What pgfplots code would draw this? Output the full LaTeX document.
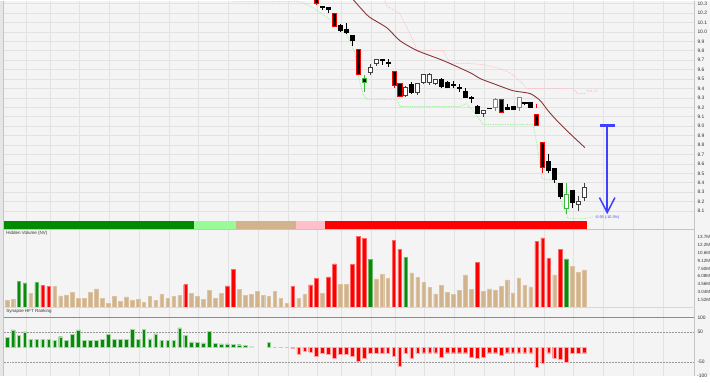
\documentclass[border=0pt]{standalone}
\usepackage{pgfplots}
\pgfplotsset{compat=1.18}
\usepackage{fontspec}
\setmainfont{Liberation Sans}

\definecolor{panelbg}{HTML}{F4F4F4}
\definecolor{edgebg}{HTML}{E6E6E6}
\definecolor{gridc}{HTML}{E2E2E2}
\definecolor{borderc}{HTML}{C4C4C4}
\definecolor{sepc}{HTML}{D8D8D8}
\definecolor{upgreen}{HTML}{3CB83C}
\definecolor{volgreen}{HTML}{0A8A0A}
\definecolor{voltan}{HTML}{D2B48C}
\definecolor{volred}{HTML}{FF0000}
\definecolor{stripgreen}{HTML}{008C00}
\definecolor{striplight}{HTML}{98FB98}
\definecolor{strippink}{HTML}{FFC0CB}
\definecolor{mabrown}{HTML}{8B3535}
\definecolor{supgreen}{HTML}{90EE90}
\definecolor{respink}{HTML}{FFB6C1}
\definecolor{arrowblue}{HTML}{4040FF}
\definecolor{labelc}{HTML}{333333}
\definecolor{whiteedge}{HTML}{404040}

% one candle: index, open, high, low, close, body fill, outline
\newcommand{\candle}[7]{%
  \pgfmathsetmacro{\cl}{#1-0.34}%
  \pgfmathsetmacro{\cr}{#1+0.34}%
  \addplot[draw=#7, line width=0.6pt] coordinates {(#1,#4) (#1,#3)};
  \addplot[draw=#7, fill=#6, line width=0.6pt] coordinates {(\cl,#2) (\cr,#2) (\cr,#5) (\cl,#5)} -- cycle;
}

\pgfplotsset{
  panel/.style={
    scale only axis, width=691pt, xmin=-0.5, xmax=115.6,
    axis line style={draw=none}, major tick length=0pt,
    xtick={3.2,7.2,12.2,17.2,22.2,27.2,32.2,37.2,42.2,47.2,52.2,56.2,61.2,65.2,70.2,75.2,80.2,85.2,90.2,95.2,100.2,105.2,110.2},
    xticklabels={}, xmajorgrids,
    major grid style={gridc, line width=0.6pt},
    yticklabel pos=right,
    yticklabel style={font=\fontsize{4.9}{5.5}\selectfont, text=labelc, anchor=west, inner sep=0pt, xshift=2.3pt},
  },
  volbar/.style={ybar, bar width=3.6pt, bar shift=0pt, line width=0.4pt},
}

\begin{document}
\begin{tikzpicture}
\fill[panelbg] (0,0) rectangle (710pt,375pt);
\fill[edgebg] (0,0) rectangle (3pt,375pt);

% ---------------- price panel ----------------
\begin{axis}[panel, at={(4pt,375pt)}, anchor=north west, height=228pt,
  ymin=7.914, ymax=10.332, ymajorgrids,
  ytick={8.1,8.2,8.3,8.4,8.5,8.6,8.7,8.8,8.9,9.0,9.1,9.2,9.3,9.4,9.5,9.6,9.7,9.8,9.9,10.0,10.1,10.2,10.3},
  yticklabels={8.1,8.2,8.3,8.4,8.5,8.6,8.7,8.8,8.9,9.0,9.1,9.2,9.3,9.4,9.5,9.6,9.7,9.8,9.9,10.0,10.1,10.2,10.3},
]
% trend state strip
\addplot[draw=none, fill=stripgreen] coordinates {(-0.5,7.914) (31.5,7.914) (31.5,7.999) (-0.5,7.999)} -- cycle;
\addplot[draw=none, fill=striplight] coordinates {(31.5,7.914) (38.5,7.914) (38.5,7.999) (31.5,7.999)} -- cycle;
\addplot[draw=none, fill=voltan] coordinates {(38.5,7.914) (48.5,7.914) (48.5,7.999) (38.5,7.999)} -- cycle;
\addplot[draw=none, fill=strippink] coordinates {(48.5,7.914) (53.5,7.914) (53.5,7.999) (48.5,7.999)} -- cycle;
\addplot[draw=none, fill=volred] coordinates {(53.5,7.914) (97.5,7.914) (97.5,7.999) (53.5,7.999)} -- cycle;

% support (dotted green)
\addplot[supgreen, densely dotted, line width=0.7pt] coordinates {
 (37.97,10.321) (49.2,10.321) (51.4,10.258) (53.8,10.152) (55.4,10.067) (56.8,9.992)
 (57.6,9.908) (58.5,9.770) (59.0,9.536) (59.8,9.346) (60.5,9.282) (65.5,9.282)
 (66.0,9.208) (76.1,9.208) (77.1,9.239) (78.3,9.165) (80.0,9.017) (88.4,9.017)
 (89.0,8.826) (89.9,8.444) (91.2,8.434) (92.2,8.412) (92.9,8.243) (93.7,8.105)
 (94.3,8.02) (97.1,8.02) (98.5,8.04)};
% resistance (dotted pink)
\addplot[respink, densely dotted, line width=0.7pt] coordinates {
 (63.2,10.385) (63.8,10.279) (66.0,10.194) (67.7,9.982) (68.9,9.802) (73.3,9.802)
 (74.4,9.664) (77.8,9.664) (80.0,9.653) (82.3,9.621) (84.5,9.568) (86.5,9.462)
 (87.4,9.399) (95.1,9.399) (95.9,9.346) (97.1,9.346)};
\node[respink, font=\fontsize{3.5}{4}\selectfont, anchor=west, inner sep=0pt] at (axis cs:97.3,9.37) {Sell\_SL};
% moving average
\addplot[mabrown, line width=0.9pt, smooth, tension=0.4] coordinates {
 (56.8,10.44) (59.8,10.226) (61.0,10.152) (63.8,10.045) (66.0,9.908) (68.9,9.802)
 (73.3,9.696) (77.8,9.568) (79.5,9.505) (81.7,9.452) (85.0,9.377) (87.9,9.346)
 (89.6,9.271) (90.9,9.165) (92.4,9.059) (94.6,8.921) (97.1,8.773)};

% candles
\candle{52}{10.38}{10.40}{10.29}{10.30}{black}{red}
\candle{53}{10.272}{10.272}{10.236}{10.262}{black}{black}
\candle{54}{10.258}{10.258}{10.205}{10.245}{black}{black}
\candle{55}{10.20}{10.205}{10.05}{10.056}{black}{red}
\candle{56}{10.067}{10.088}{10.003}{10.014}{black}{black}
\candle{57}{10.024}{10.099}{9.982}{9.992}{black}{black}
\candle{58}{9.961}{9.971}{9.855}{9.908}{black}{black}
\candle{59}{9.812}{9.82}{9.54}{9.547}{black}{red}
\candle{60}{9.505}{9.547}{9.367}{9.462}{black}{upgreen}
\candle{61}{9.568}{9.664}{9.547}{9.621}{white}{whiteedge}
\candle{62}{9.664}{9.706}{9.64}{9.706}{white}{whiteedge}
\candle{63}{9.706}{9.706}{9.653}{9.696}{black}{black}
\candle{64}{9.678}{9.717}{9.632}{9.672}{black}{black}
\candle{65}{9.579}{9.59}{9.409}{9.430}{black}{red}
\candle{66}{9.452}{9.46}{9.31}{9.314}{black}{red}
\candle{67}{9.324}{9.43}{9.314}{9.409}{white}{whiteedge}
\candle{68}{9.441}{9.473}{9.346}{9.356}{black}{black}
\candle{69}{9.356}{9.462}{9.335}{9.452}{white}{whiteedge}
\candle{70}{9.462}{9.555}{9.45}{9.547}{white}{whiteedge}
\candle{71}{9.462}{9.56}{9.44}{9.547}{white}{whiteedge}
\candle{72}{9.451}{9.50}{9.44}{9.494}{white}{whiteedge}
\candle{73}{9.494}{9.515}{9.40}{9.42}{black}{black}
\candle{74}{9.462}{9.483}{9.40}{9.409}{black}{black}
\candle{75}{9.443}{9.483}{9.40}{9.437}{black}{black}
\candle{76}{9.413}{9.45}{9.367}{9.407}{black}{black}
\candle{77}{9.367}{9.40}{9.30}{9.303}{black}{black}
\candle{78}{9.303}{9.325}{9.25}{9.297}{black}{black}
\candle{79}{9.208}{9.229}{9.13}{9.133}{black}{black}
\candle{80}{9.133}{9.17}{9.10}{9.165}{white}{whiteedge}
\candle{81}{9.192}{9.195}{9.18}{9.186}{black}{black}
\candle{82}{9.197}{9.303}{9.165}{9.282}{white}{upgreen}
\candle{83}{9.282}{9.29}{9.14}{9.144}{black}{red}
\candle{84}{9.197}{9.24}{9.17}{9.176}{black}{black}
\candle{85}{9.208}{9.21}{9.17}{9.176}{black}{black}
\candle{86}{9.197}{9.31}{9.165}{9.303}{white}{upgreen}
\candle{87}{9.25}{9.25}{9.22}{9.24}{black}{black}
\candle{88}{9.25}{9.26}{9.19}{9.197}{black}{black}
\candle{89}{9.123}{9.13}{9.0}{9.006}{black}{red}
\candle{90}{8.826}{8.83}{8.508}{8.561}{black}{red}
\candle{91}{8.625}{8.709}{8.508}{8.529}{black}{black}
\candle{92}{8.55}{8.561}{8.402}{8.434}{black}{black}
\candle{93}{8.391}{8.40}{8.232}{8.253}{black}{black}
\candle{94}{8.126}{8.402}{8.073}{8.274}{white}{upgreen}
\candle{95}{8.317}{8.32}{8.137}{8.19}{black}{black}
\candle{96}{8.168}{8.264}{8.105}{8.20}{white}{whiteedge}
\candle{97}{8.243}{8.402}{8.211}{8.349}{white}{whiteedge}
% small red marker above the gap-down bar
\addplot[red, line width=1.6pt] coordinates {(89,9.24) (89,9.21)};
\addplot[red, line width=0.6pt] coordinates {(89,9.21) (89,9.19)};

% measured move
\addplot[arrowblue, line width=3pt] coordinates {(99.6,9.006) (102.1,9.006)};
\addplot[arrowblue, line width=1.5pt] coordinates {(100.85,9.006) (100.85,8.09)};
\addplot[arrowblue, line width=1.5pt] coordinates {(99.55,8.243) (100.85,8.084) (102.15,8.243)};
\node[arrowblue, font=\fontsize{3.8}{4.2}\selectfont, inner sep=0pt] at (axis cs:100.85,8.031) {-0.93 (-10.3\%)};
\end{axis}

% ---------------- volume panel ----------------
\begin{axis}[panel, at={(4pt,147pt)}, anchor=north west, height=79pt,
  ymin=0, ymax=15.4,
  ytick={1.52,3.04,4.56,6.08,7.60,9.12,10.64,12.16,13.68},
  yticklabels={1.52M,3.04M,4.56M,6.08M,7.60M,9.12M,10.6M,12.2M,13.7M},
  yticklabel style={font=\fontsize{4.5}{5}\selectfont},
]
\addplot[volbar, fill=voltan, draw=voltan!80!white] coordinates {
 (0,1.36) (1,1.56) (4,2.73) (8,4.09) (9,2.27) (10,2.47) (11,2.99) (12,1.82) (13,1.82)
 (14,2.92) (15,3.64) (16,1.75) (17,0.78) (18,2.21) (19,1.17) (20,2.08) (21,1.43)
 (22,1.56) (23,1.04) (24,2.21) (25,1.43) (26,2.6) (27,1.75) (28,2.21) (29,2.34)
 (31,2.73) (32,2.14) (33,1.56) (34,3.31) (35,1.75) (36,2.73) (39,3.51) (40,2.34)
 (41,2.53) (42,3.18) (43,2.34) (44,2.14) (45,3.12) (46,1.75) (47,0.78) (49,1.82)
 (50,2.53) (53,2.73) (56,4.55) (57,4.48) (62,5.59) (63,6.5) (64,5.65) (68,6.76)
 (69,5.85) (70,4.87) (71,3.9) (72,2.66) (73,4.29) (74,2.99) (75,2.53) (76,3.38)
 (77,6.4) (78,3.51) (80,3.18) (81,3.64) (82,3.44) (83,4.09) (84,5.39) (85,2.86)
 (86,5.78) (87,4.29) (88,4.03) (92,6.37) (95,8.06) (96,6.82) (97,7.35)};
\addplot[volbar, fill=volgreen, draw=volgreen!60!white] coordinates {
 (2,5.07) (3,4.8) (5,4.87) (61,9.36) (67,9.75) (94,9.49)};
\addplot[volbar, fill=volred, draw=volred!60!white] coordinates {
 (6,4.29) (7,4.09) (30,4.48) (37,4.22) (38,7.41) (48,4.16) (51,4.42) (52,5.72)
 (54,5.98) (55,8.51) (58,8.45) (59,13.9) (60,13.45) (65,13.1) (66,11.3) (79,8.83)
 (89,12.92) (90,13.6) (91,9.6) (93,11.3)};
\node[font=\fontsize{4.5}{5}\selectfont, text=labelc, anchor=north west, inner sep=0pt] at (rel axis cs:0.003,0.975) {Hidden Volume (NV)};
\end{axis}

% ---------------- ranking panel ----------------
\begin{axis}[panel, at={(4pt,68pt)}, anchor=north west, height=68pt,
  ymin=-96.3, ymax=133.4,
  ytick={-50,50,100}, yticklabels={-50,50,100},
]
\addplot[gray!80, densely dotted, line width=0.5pt] coordinates {(-0.5,50) (115.6,50)};
\addplot[gray!80, densely dotted, line width=0.5pt] coordinates {(-0.5,-50) (115.6,-50)};
\addplot[gray!90, line width=0.8pt] coordinates {(-0.5,100) (115.6,100)};
\addplot[volbar, fill=volgreen, draw=volgreen!35!white] coordinates {
 (0,33) (1,58) (2,40) (3,51) (4,26) (5,26) (6,26) (7,25) (8,23) (9,35) (10,22)
 (11,42) (12,58) (13,22) (14,22) (15,22) (16,25) (17,42) (18,25) (19,25) (20,25)
 (21,60) (22,25) (23,61) (24,28) (25,45) (26,22) (27,22) (28,22) (29,65) (30,40)
 (31,18) (32,17) (33,14) (34,52) (35,12) (36,11) (37,11) (38,9) (39,8) (40,7) (44,15)};
\addplot[volbar, fill=volgreen!40!white, draw=volgreen!20!white] coordinates {(41,3)};
\addplot[volbar, fill=volred!45!white, draw=none] coordinates {(45,-1.6) (46,-1.6) (47,-1.6)};
\addplot[volbar, fill=volred, draw=volred!35!white] coordinates {
 (48,-4) (49,-23) (50,-14) (51,-16) (52,-30) (53,-21) (54,-23) (55,-36) (56,-25)
 (57,-25) (58,-30) (59,-47) (60,-36) (61,-21) (62,-21) (63,-21) (64,-21) (65,-30)
 (66,-66) (67,-21) (68,-38) (69,-21) (70,-19) (71,-19) (72,-19) (73,-34) (74,-19)
 (75,-19) (76,-19) (77,-19) (78,-34) (79,-38) (80,-34) (81,-19) (82,-19) (83,-28)
 (84,-19) (85,-19) (86,-19) (87,-19) (88,-19) (89,-68) (90,-53) (91,-19) (92,-38)
 (93,-42) (94,-50) (95,-21) (96,-21) (97,-19)};
\node[font=\fontsize{4.5}{5}\selectfont, text=labelc, anchor=north west, inner sep=0pt] at (rel axis cs:0.003,0.985) {Synapse HFT Ranking};
\end{axis}

% panel frames
\draw[borderc, line width=1pt] (3.6pt,0) -- (3.6pt,375pt);
\draw[borderc, line width=1.2pt] (694.8pt,0) -- (694.8pt,375pt);
\draw[borderc, line width=0.8pt] (4pt,146.6pt) -- (695pt,146.6pt);
\draw[sepc, line width=0.8pt] (4pt,67.8pt) -- (695pt,67.8pt);
\node[font=\fontsize{4.9}{5.5}\selectfont, text=labelc, anchor=west, inner sep=0pt] at (697pt,0pt) {-100};
\end{tikzpicture}
\end{document}
